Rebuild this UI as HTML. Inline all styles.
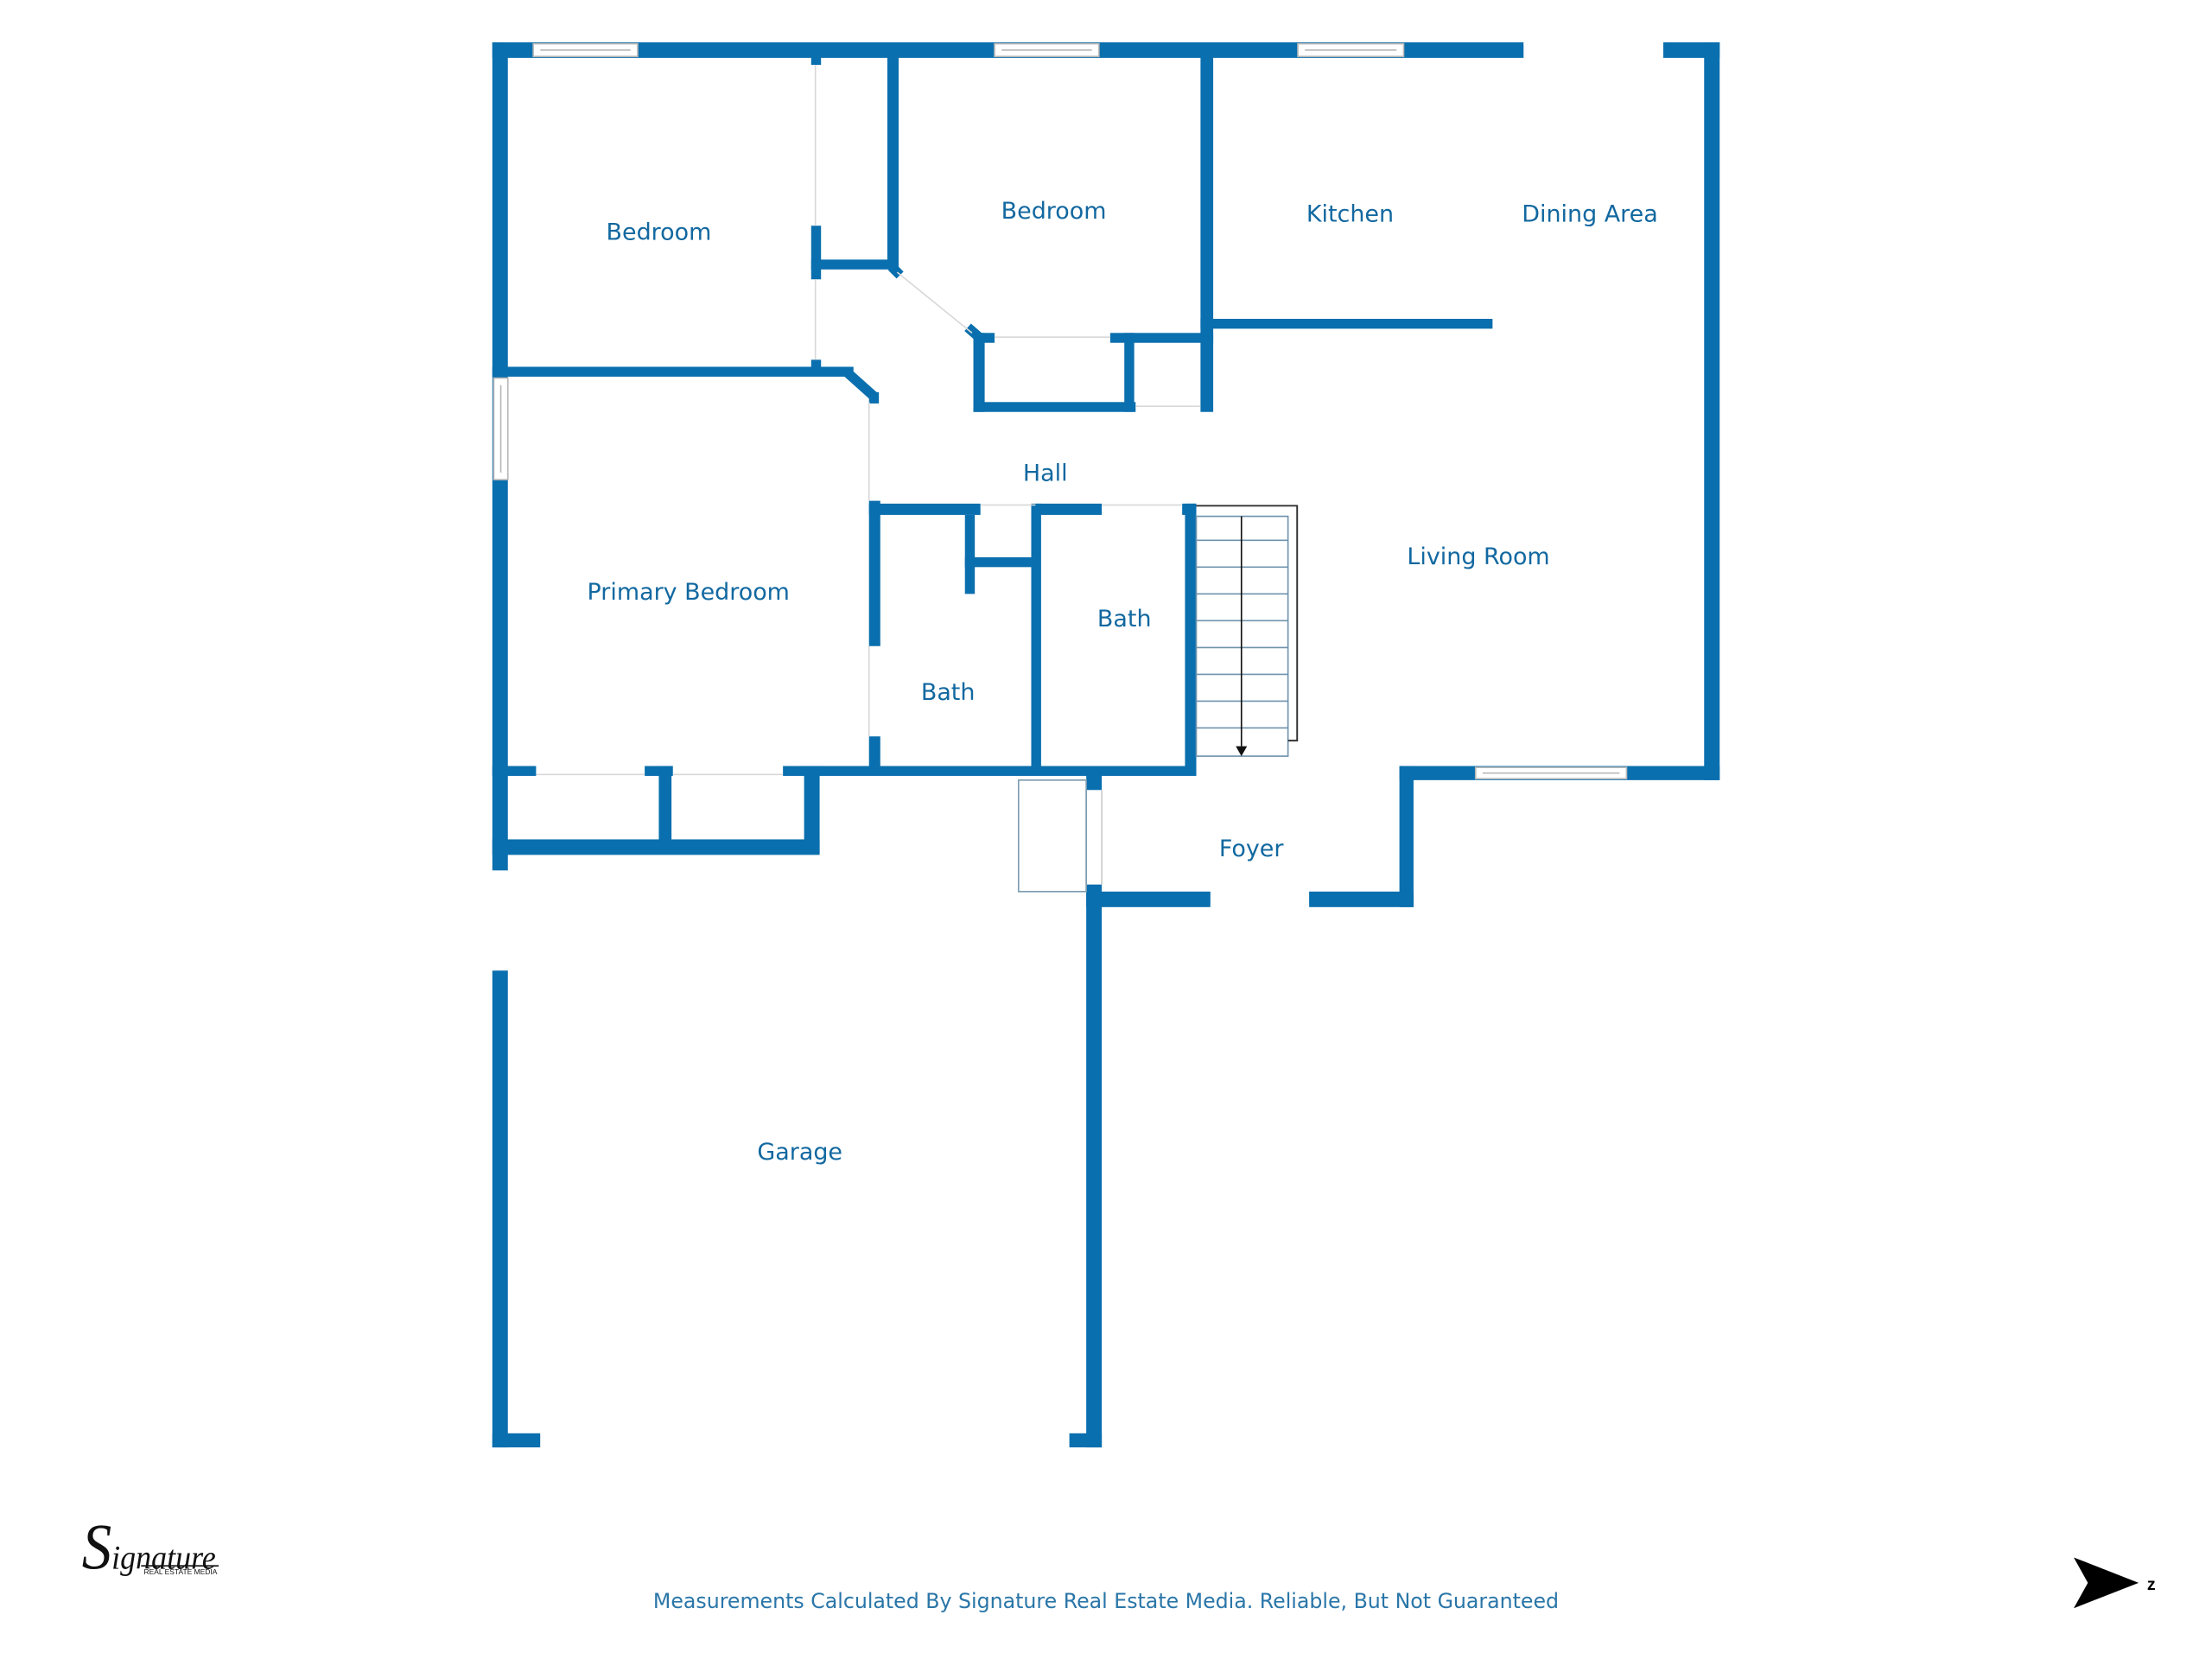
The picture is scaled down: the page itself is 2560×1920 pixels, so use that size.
<!DOCTYPE html>
<html><head><meta charset="utf-8"><style>html,body{margin:0;padding:0;background:#fff}svg{display:block}</style></head>
<body>
<svg width="2560" height="1920" viewBox="0 0 1568 1176" xmlns="http://www.w3.org/2000/svg">
<g fill="#0a6fae">
<rect x="349" y="30" width="870" height="11"/>
<rect x="349" y="30" width="11" height="996"/>
<rect x="1208" y="30" width="11" height="523"/>
<rect x="992" y="543" width="227" height="10"/>
<rect x="992" y="543" width="10" height="100"/>
<rect x="770" y="632" width="232" height="11"/>
<rect x="770" y="548" width="11" height="478"/>
<rect x="349" y="1016" width="34" height="10"/>
<rect x="758" y="1016" width="23" height="10"/>
<rect x="575" y="40" width="7" height="6"/>
<rect x="575" y="160" width="7" height="38"/>
<rect x="575" y="255" width="7" height="8"/>
<rect x="629" y="40" width="8" height="150"/>
<rect x="575" y="184" width="62" height="7"/>
<rect x="690" y="236" width="15" height="7"/>
<rect x="787" y="236" width="73" height="7"/>
<rect x="690" y="236" width="8" height="56"/>
<rect x="690" y="285" width="115" height="7"/>
<rect x="797" y="236" width="7" height="56"/>
<rect x="851" y="40" width="9" height="252"/>
<rect x="851" y="226" width="207" height="7"/>
<rect x="349" y="260" width="256" height="7"/>
<rect x="616" y="278" width="7" height="8"/>
<rect x="616" y="355" width="8" height="103"/>
<rect x="616" y="522" width="8" height="26"/>
<rect x="616" y="357" width="79" height="8"/>
<rect x="734" y="357" width="47" height="8"/>
<rect x="838" y="357" width="10" height="8"/>
<rect x="684" y="365" width="7" height="56"/>
<rect x="684" y="395" width="50" height="7"/>
<rect x="731" y="357" width="7" height="191"/>
<rect x="840" y="357" width="8" height="191"/>
<rect x="349" y="543" width="31" height="7"/>
<rect x="457" y="543" width="20" height="7"/>
<rect x="555" y="543" width="293" height="7"/>
<rect x="467" y="543" width="9" height="57"/>
<rect x="570" y="543" width="11" height="62"/>
<rect x="349" y="595" width="232" height="11"/>
</g>
<g stroke="#0a6fae" stroke-width="7" fill="none">
<polyline points="600,263.5 619.5,281"/>
<line x1="632" y1="189" x2="638" y2="195"/>
<line x1="686" y1="232" x2="694" y2="239"/>
</g>
<g stroke="#d8d8d8" stroke-width="1" fill="none">
<line x1="636" y1="193" x2="689" y2="236"/>
<line x1="616" y1="285" x2="616" y2="355"/>
<line x1="616" y1="458" x2="616" y2="522"/>
<line x1="578" y1="46" x2="578" y2="160"/>
<line x1="578" y1="198" x2="578" y2="255"/>
<line x1="705" y1="239" x2="787" y2="239"/>
<line x1="805" y1="288" x2="851" y2="288"/>
<line x1="1080" y1="31" x2="1179" y2="31"/>
<line x1="383" y1="1025" x2="758" y2="1025"/>
<line x1="350" y1="617" x2="350" y2="688"/>
<line x1="858" y1="642" x2="928" y2="642"/>
<line x1="695" y1="358" x2="734" y2="358"/>
<line x1="781" y1="358" x2="838" y2="358"/>
<line x1="380" y1="549" x2="457" y2="549"/>
<line x1="477" y1="549" x2="555" y2="549"/>
</g>
<g fill="#fff">
<rect x="1080" y="29" width="99" height="13"/>
<rect x="383" y="1015" width="375" height="12"/>
<rect x="348" y="617" width="13" height="71"/>
<rect x="858" y="631" width="70" height="13"/>
<rect x="770" y="560" width="11" height="67"/>
</g>
<line x1="770" y1="560" x2="770" y2="627" stroke="#ccc" stroke-width="1"/>
<line x1="781" y1="560" x2="781" y2="627" stroke="#ccc" stroke-width="1"/>
<g fill="#fff" stroke="#b8b8b8" stroke-width="1">
<rect x="378" y="31" width="74" height="9"/>
<rect x="705" y="31" width="74" height="9"/>
<rect x="920" y="31" width="75" height="9"/>
<rect x="1046" y="544" width="107" height="8"/>
<rect x="350" y="268" width="10" height="72"/>
</g>
<g stroke="#b8b8b8" stroke-width="1">
<line x1="383" y1="35.5" x2="447" y2="35.5"/>
<line x1="710" y1="35.5" x2="774" y2="35.5"/>
<line x1="925" y1="35.5" x2="990" y2="35.5"/>
<line x1="1051" y1="548" x2="1148" y2="548"/>
<line x1="355" y1="273" x2="355" y2="335"/>
</g>
<rect x="722" y="553" width="48" height="79" fill="none" stroke="#7a9bb0" stroke-width="1"/>
<g stroke="#6f93ad" stroke-width="1" fill="none">
<rect x="848" y="366" width="65" height="170"/>
<line x1="848" y1="383" x2="913" y2="383"/><line x1="848" y1="402" x2="913" y2="402"/>
<line x1="848" y1="421" x2="913" y2="421"/><line x1="848" y1="440" x2="913" y2="440"/>
<line x1="848" y1="459" x2="913" y2="459"/><line x1="848" y1="478" x2="913" y2="478"/>
<line x1="848" y1="497" x2="913" y2="497"/><line x1="848" y1="516" x2="913" y2="516"/>
</g>
<polyline points="848,358.5 919.5,358.5 919.5,525 913,525" fill="none" stroke="#333" stroke-width="1.2"/>
<line x1="880" y1="366" x2="880" y2="529" stroke="#111" stroke-width="1"/>
<polygon points="876,529 884,529 880,536" fill="#111"/>
<g font-family="'DejaVu Sans','Liberation Sans',sans-serif" font-size="16.5" fill="#1268a0" text-anchor="middle">
<text x="467" y="170">Bedroom</text>
<text x="747" y="155">Bedroom</text>
<text x="957" y="157">Kitchen</text>
<text x="1127" y="157">Dining Area</text>
<text x="741" y="341">Hall</text>
<text x="1048" y="400">Living Room</text>
<text x="488" y="425">Primary Bedroom</text>
<text x="797" y="444">Bath</text>
<text x="672" y="496">Bath</text>
<text x="887" y="607">Foyer</text>
<text x="567" y="822">Garage</text>
</g>
<text x="463" y="1140" font-family="'DejaVu Sans','Liberation Sans',sans-serif" font-size="14.5" fill="#2a76a8" textLength="642" lengthAdjust="spacingAndGlyphs">Measurements Calculated By Signature Real Estate Media. Reliable, But Not Guaranteed</text>
<text x="58" y="1112" font-family="'Liberation Serif',serif" font-style="italic" fill="#111" textLength="95" lengthAdjust="spacingAndGlyphs"><tspan font-size="46">S</tspan><tspan font-size="24">ignature</tspan></text>
<line x1="100" y1="1110" x2="155" y2="1110" stroke="#111" stroke-width="1"/>
<text x="102" y="1116" font-family="'Liberation Sans',sans-serif" font-size="5" fill="#111" textLength="52" lengthAdjust="spacingAndGlyphs">REAL ESTATE MEDIA</text>
<polygon points="1470,1104 1516,1122 1470,1140 1480,1122" fill="#000"/>
<text x="1522" y="1127" font-family="'Liberation Sans',sans-serif" font-size="12" font-weight="bold" fill="#000">z</text>
</svg>
</body></html>
